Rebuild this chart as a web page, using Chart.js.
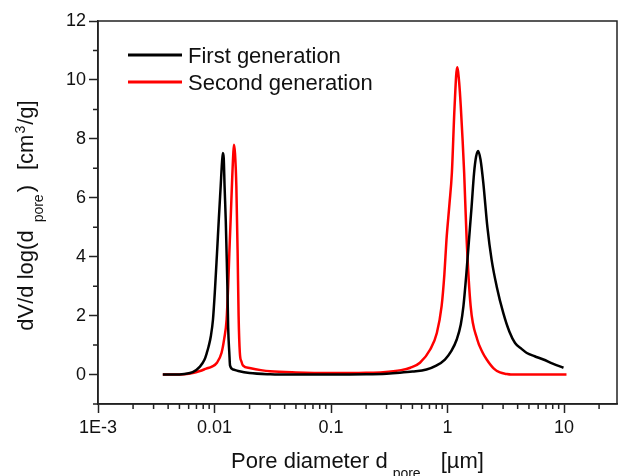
<!DOCTYPE html>
<html>
<head>
<meta charset="utf-8">
<script src="https://cdn.jsdelivr.net/npm/chart.js@4.4.1/dist/chart.umd.min.js"></script>
<style>
  body { margin: 0; background: #fff; }
</style>
</head>
<body>
<canvas id="myChart" width="618" height="476"></canvas>
<script>
// Pore diameter (um) and dV/dlog(d)
var firstX = [0.0036, 0.0045, 0.0055, 0.0065, 0.0075, 0.0082, 0.0086, 0.0089, 0.0093, 0.0097,
  0.0101, 0.0105, 0.0109, 0.0113, 0.0116, 0.0118, 0.0120, 0.0122, 0.0125, 0.0127,
  0.0129, 0.0131, 0.0134, 0.0136, 0.0145, 0.016, 0.02, 0.03, 0.05, 0.1,
  0.2, 0.3, 0.39, 0.5, 0.66, 0.8, 0.95, 1.08, 1.2, 1.3,
  1.37, 1.45, 1.53, 1.61, 1.69, 1.76, 1.83, 1.92, 2.03, 2.2,
  2.39, 2.64, 3.01, 3.4, 3.8, 4.3, 4.8, 5.6, 6.65, 8,
  9.9];
var firstY = [0, 0, 0.02, 0.08, 0.27, 0.5, 0.74, 0.95, 1.3, 1.86,
  2.9, 4.1, 5.3, 6.4, 7.2, 7.52, 7.35, 6.4, 5.2, 4.1,
  3.0, 1.6, 0.74, 0.3, 0.17, 0.12, 0.05, 0.01, 0, 0,
  0.01, 0.03, 0.06, 0.1, 0.17, 0.3, 0.51, 0.8, 1.19, 1.7,
  2.32, 3.4, 4.58, 5.7, 6.84, 7.4, 7.59, 7.3, 6.5, 5.0,
  3.9, 3.0, 2.09, 1.45, 1.07, 0.88, 0.73, 0.62, 0.51, 0.37,
  0.23];

var secondX = [0.0036, 0.0045, 0.0055, 0.0065, 0.0075, 0.0085, 0.0095, 0.0105, 0.0115, 0.0121,
  0.0127, 0.0131, 0.0134, 0.0138, 0.0142, 0.0145, 0.0147, 0.0150, 0.0154, 0.0158,
  0.0161, 0.0165, 0.0170, 0.0176, 0.02, 0.025, 0.03, 0.05, 0.1, 0.2,
  0.28, 0.4, 0.48, 0.58, 0.71, 0.81, 0.89, 0.94, 0.98, 1.04,
  1.09, 1.15, 1.21, 1.26, 1.30, 1.35, 1.39, 1.46, 1.58, 1.80,
  2.0, 2.17, 2.5, 2.82, 3.2, 3.5, 5, 7, 10.5];
var secondY = [0, 0, 0.01, 0.05, 0.12, 0.2, 0.27, 0.4, 0.74, 1.2,
  1.86, 3.0, 4.1, 5.4, 6.7, 7.5, 7.8, 7.5, 6.4, 4.1,
  2.0, 0.74, 0.45, 0.3, 0.22, 0.15, 0.11, 0.07, 0.05, 0.06,
  0.08, 0.15, 0.23, 0.4, 0.85, 1.41, 2.32, 3.4, 4.58, 5.8,
  6.84, 9.1, 10.43, 9.9, 9.1, 7.9, 6.84, 4.58, 2.32, 1.19,
  0.75, 0.51, 0.2, 0.07, 0.02, 0, 0, 0, 0];

var seriesNames = ['First generation', 'Second generation'];

// axis ranges and tick labels
var xMin = 0.001, xMax = 28.5;
var yMin = -1, yMax = 12;
var xMajorTicks = [0.001, 0.01, 0.1, 1, 10];
var xMajorLabels = ['1E-3', '0.01', '0.1', '1', '10'];
var yTicks = [-1, 0, 1, 2, 3, 4, 5, 6, 7, 8, 9, 10, 11, 12];
var yTickLabels = ['', '0', '', '2', '', '4', '', '6', '', '8', '', '10', '', '12'];

var FONT = "'Liberation Sans', Arial, sans-serif";
var INK = '#111';
var AXIS = '#222';

function pts(xs, ys) {
  return xs.map(function (x, i) { return { x: x, y: ys[i] }; });
}

function buildXTicks() {
  var ticks = [];
  xMajorTicks.forEach(function (d, i) {
    for (var m = 1; m <= 9; m++) {
      var v = d * m;
      if (v > xMax) break;
      ticks.push({ value: v, major: m === 1, text: m === 1 ? xMajorLabels[i] : '' });
    }
  });
  return ticks;
}

// draw a run of text pieces: [text, size, dy, gapBefore]
function drawParts(ctx, parts, x, y, measureOnly) {
  var pos = x;
  parts.forEach(function (p) {
    pos += p[3] || 0;
    ctx.font = p[1] + 'px ' + FONT;
    if (!measureOnly) ctx.fillText(p[0], pos, y + (p[2] || 0));
    pos += ctx.measureText(p[0]).width;
  });
  return pos - x;
}

var extras = {
  id: 'extras',
  afterDraw: function (chart) {
    var ctx = chart.ctx, a = chart.chartArea;
    var xs = chart.scales.x, ys = chart.scales.y;
    ctx.save();
    // minor ticks and frame
    ctx.strokeStyle = AXIS;
    ctx.lineWidth = 1.5;
    ctx.beginPath();
    xs.ticks.forEach(function (t) {
      if (t.major) return;
      var px = xs.getPixelForValue(t.value);
      ctx.moveTo(px, a.bottom);
      ctx.lineTo(px, a.bottom + 5);
    });
    ys.ticks.forEach(function (t) {
      if (t.major) return;
      var py = ys.getPixelForValue(t.value);
      ctx.moveTo(a.left, py);
      ctx.lineTo(a.left - 5, py);
    });
    ctx.stroke();
    ctx.strokeRect(a.left, a.top, a.right - a.left, a.bottom - a.top);

    // legend
    ctx.textBaseline = 'alphabetic';
    ctx.textAlign = 'left';
    ctx.fillStyle = INK;
    ctx.font = '22px ' + FONT;
    chart.data.datasets.forEach(function (ds, i) {
      var ly = a.top + 34 + i * 27;
      ctx.strokeStyle = ds.borderColor;
      ctx.lineWidth = 3;
      ctx.beginPath();
      ctx.moveTo(a.left + 30, ly);
      ctx.lineTo(a.left + 84, ly);
      ctx.stroke();
      ctx.fillText(ds.label, a.left + 90, ly + 8);
    });

    // x title
    var xParts = [['Pore diameter d', 22, 0, 0], ['pore', 14, 10, 5], ['[\u00b5m]', 22, 0, 20]];
    var w = drawParts(ctx, xParts, 0, 0, true);
    drawParts(ctx, xParts, (a.left + a.right) / 2 - w / 2, 468);

    // y title
    var yParts = [['dV/d log(d', 22, 0, 0], ['pore', 14, 10, 8], [')', 22, 0, 2],
      ['[cm', 22, 0, 15], ['3', 14, -8, 1], ['/g]', 22, 0, 1]];
    var wy = drawParts(ctx, yParts, 0, 0, true);
    ctx.translate(33, 215.5 + wy / 2);
    ctx.rotate(-Math.PI / 2);
    drawParts(ctx, yParts, 0, 0);
    ctx.restore();
  }
};

var tickColor = function (c) {
  return c.tick && c.tick.major ? AXIS : 'rgba(0,0,0,0)';
};

var ctx = document.getElementById('myChart');
var myChart = new Chart(ctx, {
  type: 'line',
  data: {
    datasets: [
      {
        label: seriesNames[0],
        data: pts(firstX, firstY),
        borderColor: '#000000',
        borderWidth: 2.5,
        pointRadius: 0,
        cubicInterpolationMode: 'monotone',
        fill: false
      },
      {
        label: seriesNames[1],
        data: pts(secondX, secondY),
        borderColor: '#ff0000',
        borderWidth: 2.5,
        pointRadius: 0,
        cubicInterpolationMode: 'monotone',
        fill: false
      }
    ]
  },
  options: {
    responsive: false,
    animation: false,
    layout: { padding: { top: 21, right: 1, left: 0, bottom: 0 } },
    plugins: {
      legend: { display: false },
      tooltip: { enabled: false }
    },
    scales: {
      x: {
        type: 'logarithmic',
        min: xMin,
        max: xMax,
        afterBuildTicks: function (s) { s.ticks = buildXTicks(); },
        afterFit: function (s) { s.height = 72; },
        ticks: {
          autoSkip: false,
          maxRotation: 0,
          padding: 4,
          color: INK,
          font: { family: FONT, size: 18 },
          callback: function (v, i, t) { return t[i].text; }
        },
        grid: { drawOnChartArea: false, tickLength: 9, tickWidth: 1.5, tickColor: tickColor },
        border: { color: AXIS, width: 1.5 }
      },
      y: {
        type: 'linear',
        min: yMin,
        max: yMax,
        afterBuildTicks: function (s) {
          s.ticks = yTicks.map(function (v, i) { return { value: v, major: yTickLabels[i] !== '' }; });
        },
        afterFit: function (s) { s.width = 98; },
        ticks: {
          autoSkip: false,
          padding: 3,
          color: INK,
          font: { family: FONT, size: 18 },
          callback: function (v, i) { return yTickLabels[i]; }
        },
        grid: { drawOnChartArea: false, tickLength: 9, tickWidth: 1.5, tickColor: tickColor },
        border: { color: AXIS, width: 1.5 }
      }
    }
  },
  plugins: [extras]
});
</script>
</body>
</html>
